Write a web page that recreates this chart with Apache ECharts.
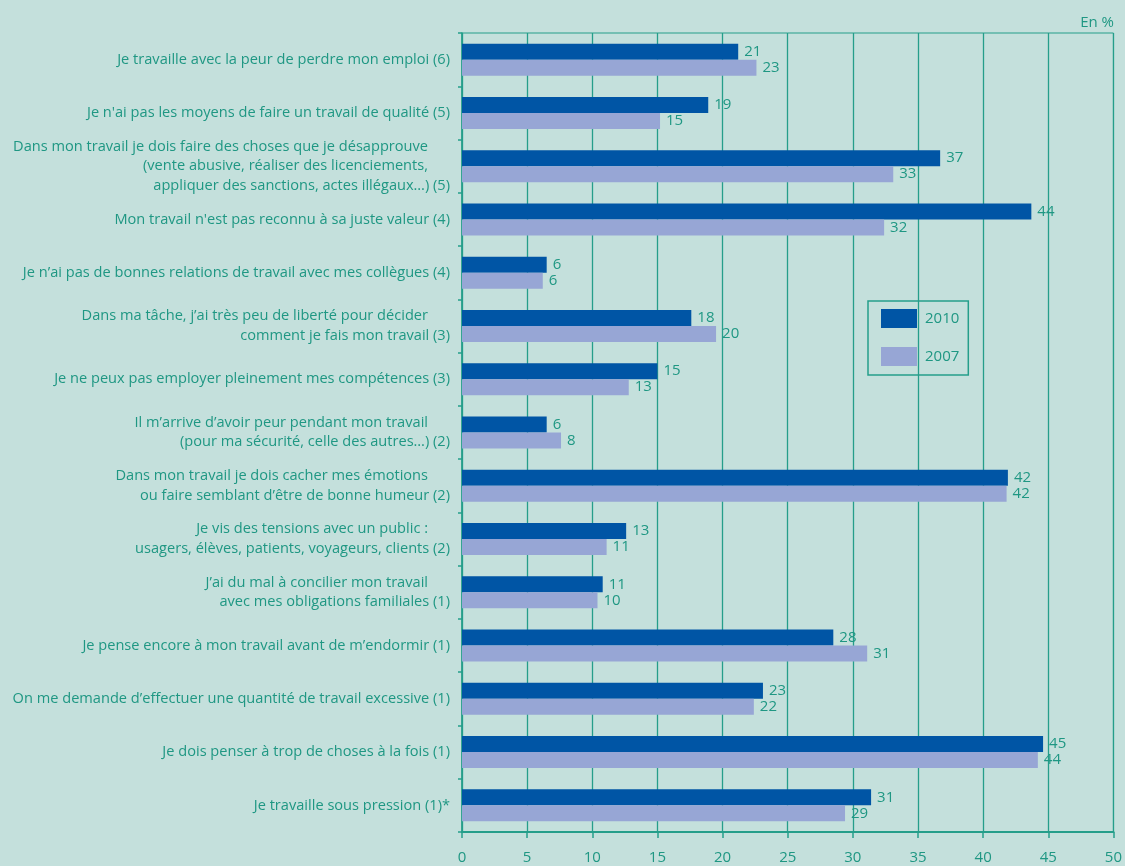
<!DOCTYPE html>
<html><head><meta charset="utf-8">
<script src="https://cdn.jsdelivr.net/npm/echarts@6/dist/echarts.min.js"></script>
<style>html,body{margin:0;padding:0;background:#c4e0dc;}#c{width:1125px;height:866px;}</style>
</head><body><div id="c"></div>
<script>
const categories = [
  "Je travaille avec la peur de perdre mon emploi (6)",
  "Je n'ai pas les moyens de faire un travail de qualité (5)",
  "Dans mon travail je dois faire des choses que je désapprouve\n(vente abusive, réaliser des licenciements,\nappliquer des sanctions, actes illégaux…) (5)",
  "Mon travail n'est pas reconnu à sa juste valeur (4)",
  "Je n’ai pas de bonnes relations de travail avec mes collègues (4)",
  "Dans ma tâche, j’ai très peu de liberté pour décider\ncomment je fais mon travail (3)",
  "Je ne peux pas employer pleinement mes compétences (3)",
  "Il m’arrive d’avoir peur pendant mon travail\n(pour ma sécurité, celle des autres…) (2)",
  "Dans mon travail je dois cacher mes émotions\nou faire semblant d’être de bonne humeur (2)",
  "Je vis des tensions avec un public :\nusagers, élèves, patients, voyageurs, clients (2)",
  "J’ai du mal à concilier mon travail\navec mes obligations familiales (1)",
  "Je pense encore à mon travail avant de m’endormir (1)",
  "On me demande d’effectuer une quantité de travail excessive (1)",
  "Je dois penser à trop de choses à la fois (1)",
  "Je travaille sous pression (1)*"
];
const values2010 = [21.2, 18.9, 36.7, 43.7, 6.5, 17.6, 15.0, 6.5, 41.9, 12.6, 10.8, 28.5, 23.1, 44.6, 31.4];
const values2007 = [22.6, 15.2, 33.1, 32.4, 6.2, 19.5, 12.8, 7.6, 41.8, 11.1, 10.4, 31.1, 22.4, 44.2, 29.4];
const labels2010 = [21, 19, 37, 44, 6, 18, 15, 6, 42, 13, 11, 28, 23, 45, 31];
const labels2007 = [23, 15, 33, 32, 6, 20, 13, 8, 42, 11, 10, 31, 22, 44, 29];
const seriesNames = ["2010", "2007"];
const xTicks = [0, 5, 10, 15, 20, 25, 30, 35, 40, 45, 50];

const TEAL = "#1f9783";
const LINE = "#259e8a";
const FONT = "Open Sans";
const YF = 14.6;

const chart = echarts.init(document.getElementById('c'), null, {renderer: 'canvas'});
chart.setOption({
  backgroundColor: "#c4e0dc",
  animation: false,
  title: {
    text: "En %", right: 6, top: 10,
    textStyle: {color: TEAL, fontSize: 15, fontWeight: "normal", fontFamily: FONT}
  },
  legend: {
    data: seriesNames,
    orient: "vertical",
    left: 868, top: 301,
    padding: [8, 9, 9, 13],
    itemWidth: 36, itemHeight: 19, itemGap: 19,
    icon: "rect",
    borderColor: LINE, borderWidth: 1.5,
    textStyle: {color: TEAL, fontSize: 15, fontFamily: FONT, padding: [0, 0, 0, 3]}
  },
  grid: {
    left: 462, right: 8, top: 33, bottom: 34,
    show: true, borderColor: LINE, borderWidth: 1, backgroundColor: "transparent",
    containLabel: false
  },
  xAxis: {
    type: "value", min: xTicks[0], max: xTicks[xTicks.length - 1], interval: 5,
    axisLine: {show: true, lineStyle: {color: LINE, width: 2}},
    axisTick: {show: true, length: 6, lineStyle: {color: LINE, width: 1.5}},
    axisLabel: {color: TEAL, fontSize: 15, fontFamily: FONT, margin: 18},
    splitLine: {show: true, lineStyle: {color: LINE, width: 1.3}}
  },
  yAxis: {
    type: "category", data: categories, inverse: true,
    axisLine: {show: true, lineStyle: {color: LINE, width: 1.5}},
    axisTick: {show: true, length: 4, lineStyle: {color: LINE, width: 1.5}},
    axisLabel: {
      color: TEAL, fontSize: YF, fontFamily: FONT, margin: 12, align: "right",
      formatter: function (v) {
        const lines = v.split("\n");
        return lines.map((l, i) => (i < lines.length - 1 ? "{p|" + l + "}" : "{q|" + l + "}")).join("\n");
      },
      rich: {
        p: {color: TEAL, fontSize: YF, fontFamily: FONT, lineHeight: 19.5, padding: [0, 22, 0, 0]},
        q: {color: TEAL, fontSize: YF, fontFamily: FONT, lineHeight: 19.5}
      }
    }
  },
  series: [
    {
      name: seriesNames[0], type: "bar", data: values2010,
      barWidth: 16, barGap: "0%",
      itemStyle: {color: "#0055a5"},
      label: {show: true, position: "right", distance: 6, color: TEAL, fontSize: 15, fontFamily: FONT,
        formatter: p => String(labels2010[p.dataIndex])}
    },
    {
      name: seriesNames[1], type: "bar", data: values2007,
      barWidth: 16, barGap: "0%",
      itemStyle: {color: "#97a6d5"},
      label: {show: true, position: "right", distance: 6, color: TEAL, fontSize: 15, fontFamily: FONT,
        formatter: p => String(labels2007[p.dataIndex])}
    }
  ]
});
</script>
</body></html>
